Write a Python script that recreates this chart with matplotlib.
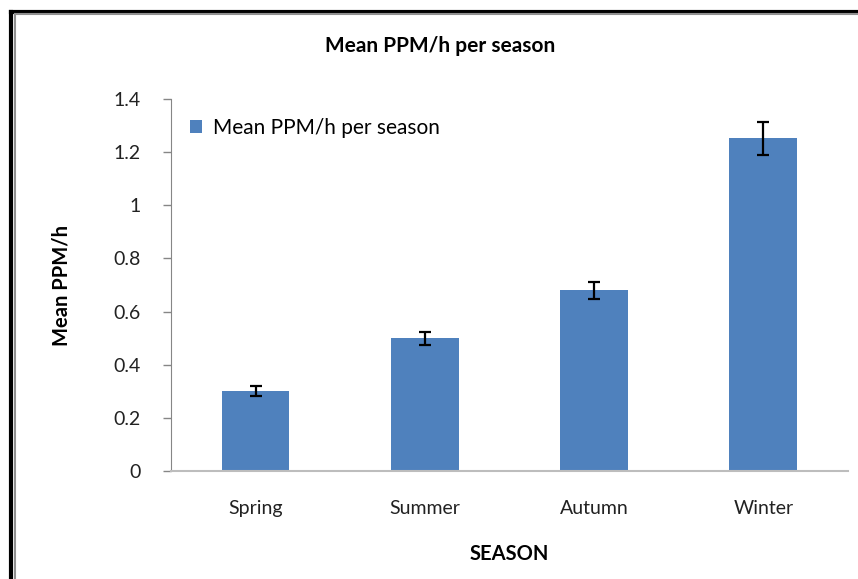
import matplotlib.pyplot as plt
from matplotlib.lines import Line2D

seasons = ['Spring', 'Summer', 'Autumn', 'Winter']
mean_ppm = [0.30, 0.50, 0.68, 1.253]
errors = [0.019, 0.025, 0.033, 0.062]
yticks = [0, 0.2, 0.4, 0.6, 0.8, 1, 1.2, 1.4]
ytick_labels = ['0', '0.2', '0.4', '0.6', '0.8', '1', '1.2', '1.4']

plt.rcParams['font.family'] = ['Lato', 'DejaVu Sans']

fig = plt.figure(figsize=(8.58, 5.79), dpi=100)
ax = fig.add_axes([0.1993, 0.1865, 0.789, 0.6425])

x = list(range(len(seasons)))
ax.bar(x, mean_ppm, width=0.4, color='#4F81BD', label='Mean PPM/h per season',
       yerr=errors, error_kw=dict(ecolor='black', elinewidth=1.6, capsize=4.5, capthick=1.6))

ax.set_xlim(-0.5, 3.5)
ax.set_ylim(0, 1.4)
ax.set_yticks(yticks)
ax.set_yticklabels(ytick_labels)
ax.set_xticks(x)
ax.set_xticklabels(seasons)

ax.tick_params(axis='y', length=6, width=1, color='#868686', labelsize=14, pad=16, labelcolor='#222222')
ax.tick_params(axis='x', length=0, labelsize=14, pad=21, labelcolor='#222222')

for side in ['top', 'right']:
    ax.spines[side].set_visible(False)
ax.spines['left'].set_color('#868686')
ax.spines['bottom'].set_color('#bdbdbd')
ax.spines['bottom'].set_linewidth(1.5)

ax.set_ylabel('Mean PPM/h', fontsize=14.5, fontweight='bold', labelpad=30)
ax.set_xlabel('SEASON', fontsize=14.5, fontweight='bold', labelpad=19)
fig.text(0.513, 0.921, 'Mean PPM/h per season', ha='center', va='center',
         fontsize=15, fontweight='bold')

ax.legend(loc='upper left', frameon=False, fontsize=15, handlelength=0.6, handleheight=0.6,
          handletextpad=0.5, bbox_to_anchor=(0.0, 1.0))

# frame lines like the source picture
fig.add_artist(Line2D([0.0134, 1.0], [0.9793, 0.9793], color='black', linewidth=3))
fig.add_artist(Line2D([0.0134, 0.0134], [0.0, 0.9793], color='black', linewidth=3))
fig.add_artist(Line2D([0.018, 1.0], [0.9750, 0.9750], color='#909090', linewidth=1.5))
fig.add_artist(Line2D([0.0172, 0.0172], [0.0, 0.9750], color='#909090', linewidth=1.5))

fig.savefig('out.png', dpi=100)
